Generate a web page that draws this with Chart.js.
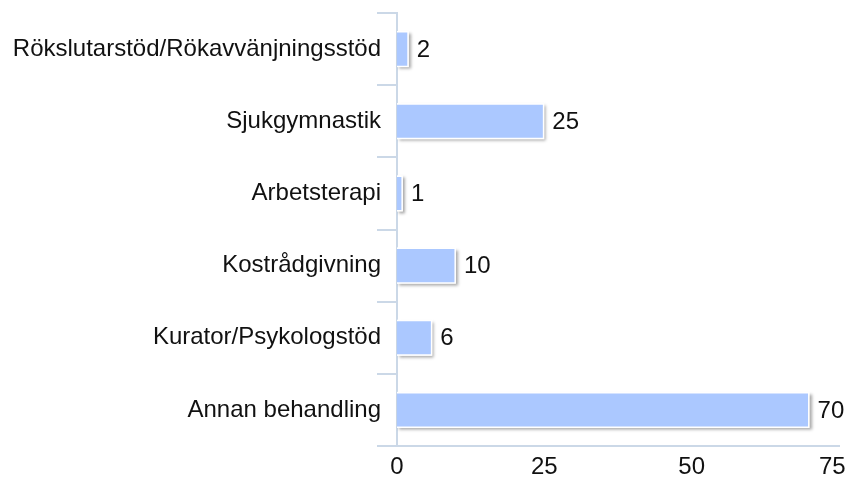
<!DOCTYPE html>
<html>
<head>
<meta charset="utf-8">
<script src="https://cdn.jsdelivr.net/npm/chart.js@4/dist/chart.umd.min.js"></script>
<style>
  html, body { margin: 0; padding: 0; background: #fff; }
  #wrap { width: 851px; height: 478px; position: relative; }
</style>
</head>
<body>
<div id="wrap"><canvas id="myChart"></canvas></div>
<script>
// --- Data ---
const categories = [
    'Rökslutarstöd/Rökavvänjningsstöd',
    'Sjukgymnastik',
    'Arbetsterapi',
    'Kostrådgivning',
    'Kurator/Psykologstöd',
    'Annan behandling'
];
const counts = [2, 25, 1, 10, 6, 70];
const xTicks = [0, 25, 50, 75];

const FONT = 'Arial, "Liberation Sans", sans-serif';
const AXIS_COLOR = '#cbd8e7';

// shadow under bars + value labels
const barExtras = {
    id: 'barExtras',
    beforeDatasetsDraw(chart) {
        const ctx = chart.ctx;
        const meta = chart.getDatasetMeta(0);
        ctx.save();
        ctx.shadowColor = 'rgba(0,0,0,0.35)';
        ctx.shadowBlur = 3;
        ctx.shadowOffsetX = 2;
        ctx.shadowOffsetY = 2;
        ctx.fillStyle = '#ffffff';
        meta.data.forEach(bar => {
            const p = bar.getProps(['x', 'y', 'base', 'height'], true);
            ctx.fillRect(p.base, p.y - p.height / 2, p.x - p.base, p.height);
        });
        ctx.restore();
    },
    afterDatasetsDraw(chart) {
        const ctx = chart.ctx;
        const meta = chart.getDatasetMeta(0);
        ctx.save();
        ctx.font = '24px ' + FONT;
        ctx.fillStyle = '#111';
        ctx.textBaseline = 'middle';
        ctx.textAlign = 'left';
        meta.data.forEach((bar, i) => {
            ctx.fillText(String(counts[i]), bar.x + 8, bar.y + 1);
        });
        ctx.restore();
    }
};

const ctx = document.getElementById('myChart').getContext('2d');
const myChart = new Chart(ctx, {
    type: 'bar',
    data: {
        labels: categories,
        datasets: [{
            data: counts,
            backgroundColor: '#abc8ff',
            borderColor: '#ffffff',
            borderWidth: 1.5,
            categoryPercentage: 1,
            barPercentage: 0.5
        }]
    },
    options: {
        indexAxis: 'y',
        responsive: true,
        maintainAspectRatio: false,
        animation: false,
        layout: { padding: { top: 13, right: 0, left: 0, bottom: 0 } },
        plugins: {
            legend: { display: false },
            tooltip: { enabled: false }
        },
        scales: {
            x: {
                min: 0,
                max: 75,
                afterBuildTicks: axis => { axis.ticks = xTicks.map(v => ({ value: v })); },
                afterFit: s => { s.height = 32; s.paddingRight = 12; s.paddingLeft = 0; },
                border: { display: true, color: AXIS_COLOR, width: 2 },
                grid: { display: false, drawTicks: false },
                ticks: {
                    color: '#111',
                    font: { family: FONT, size: 24, lineHeight: 1 },
                    padding: 9,
                    maxRotation: 0,
                    // last label sits inside the canvas edge
                    callback: v => v === xTicks[xTicks.length - 1] ? v + '  ' : String(v)
                }
            },
            y: {
                afterFit: s => { s.paddingTop = 0; s.paddingBottom = 0; s.width = 397; },
                border: { display: true, color: AXIS_COLOR, width: 2 },
                grid: {
                    offset: true,
                    drawOnChartArea: false,
                    drawTicks: true,
                    tickLength: 20,
                    color: AXIS_COLOR,
                    lineWidth: 2
                },
                ticks: {
                    color: '#111',
                    font: { family: FONT, size: 24 },
                    padding: -4
                }
            }
        }
    },
    plugins: [barExtras]
});
</script>
</body>
</html>
